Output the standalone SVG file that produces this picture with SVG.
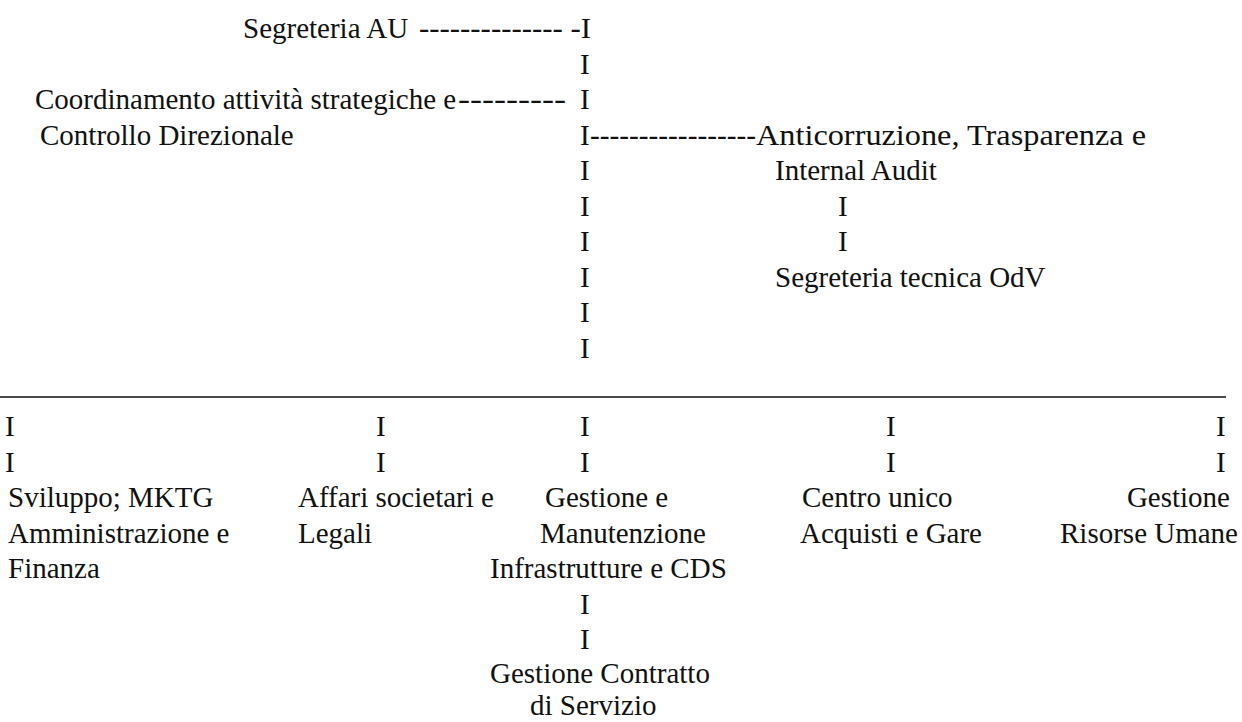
<svg xmlns="http://www.w3.org/2000/svg" width="1242" height="722" viewBox="0 0 1242 722">
<style>
text{font-family:"Liberation Serif","Times New Roman",serif;font-size:29px;fill:#111;}
.e{text-anchor:end;}
</style>
<rect width="1242" height="722" fill="#fff"/>
<g id="segreteria-au"><text x="243" y="38">Segreteria AU</text></g>
<g id="coordinamento"><text x="35" y="109">Coordinamento attività strategiche e</text><text x="40" y="144.5">Controllo Direzionale</text></g>
<g id="anticorruzione"><text x="756" y="144.5" textLength="390" lengthAdjust="spacingAndGlyphs">Anticorruzione, Trasparenza e</text><text x="775" y="180">Internal Audit</text></g>
<g id="segreteria-odv"><text x="775" y="286.5">Segreteria tecnica OdV</text></g>
<g id="sviluppo"><text x="8" y="507">Sviluppo; MKTG</text><text x="8" y="542.5">Amministrazione e</text><text x="8" y="578">Finanza</text></g>
<g id="affari"><text x="298" y="507">Affari societari e</text><text x="298" y="542.5">Legali</text></g>
<g id="gestione-manutenzione"><text x="545" y="507">Gestione e</text><text x="540" y="542.5">Manutenzione</text><text x="490" y="578">Infrastrutture e CDS</text></g>
<g id="contratto"><text x="490" y="683">Gestione Contratto</text><text x="530" y="715">di Servizio</text></g>
<g id="centro-acquisti"><text x="802" y="507">Centro unico</text><text x="800" y="542.5">Acquisti e Gare</text></g>
<g id="risorse-umane"><text class="e" x="1230" y="507">Gestione</text><text class="e" x="1238" y="542.5">Risorse Umane</text></g>
<g id="connectors">
<text x="419" y="38" textLength="172" lengthAdjust="spacingAndGlyphs">-------------- -I</text>
<text x="580" y="73.5">I</text>
<text x="458" y="109" textLength="108" lengthAdjust="spacingAndGlyphs">---------</text>
<text x="580" y="109">I</text>
<text x="580" y="144.5">I</text>
<text x="590" y="144.5" textLength="166" lengthAdjust="spacingAndGlyphs">-----------------</text>
<text x="580" y="180">I</text>
<text x="580" y="215.5">I</text>
<text x="580" y="251">I</text>
<text x="580" y="286.5">I</text>
<text x="580" y="322">I</text>
<text x="580" y="357.5">I</text>
<text x="838" y="215.5">I</text>
<text x="838" y="251">I</text>
<line x1="0" y1="397" x2="1226" y2="397" stroke="#111" stroke-width="1.5"/>
<text x="5" y="436">I</text><text x="5" y="471.5">I</text>
<text x="376" y="436">I</text><text x="376" y="471.5">I</text>
<text x="580" y="436">I</text><text x="580" y="471.5">I</text>
<text x="886" y="436">I</text><text x="886" y="471.5">I</text>
<text x="1216" y="436">I</text><text x="1216" y="471.5">I</text>
<text x="580" y="613.5">I</text><text x="580" y="649">I</text>
</g>
</svg>
